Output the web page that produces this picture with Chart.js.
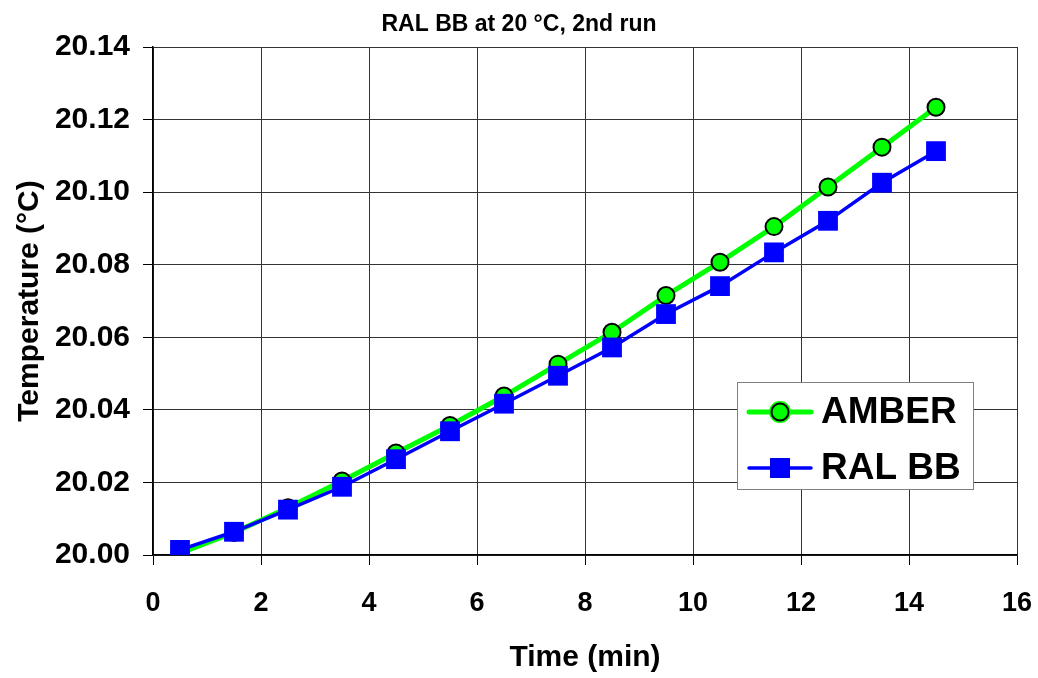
<!DOCTYPE html>
<html>
<head>
<meta charset="utf-8">
<script src="https://cdn.jsdelivr.net/npm/chart.js@4/dist/chart.umd.min.js"></script>
<style>
  html, body { margin: 0; padding: 0; background: #fff; }
  #chart { display: block; }
</style>
</head>
<body>
<canvas id="chart" width="1038" height="678"></canvas>
<script>
// data
const times = [0.5, 1.5, 2.5, 3.5, 4.5, 5.5, 6.5, 7.5, 8.5, 9.5, 10.5, 11.5, 12.5, 13.5, 14.5];
const amber = [20.0005, 20.0062, 20.0130, 20.0204, 20.0281, 20.0357, 20.0438, 20.0526,
               20.0614, 20.0715, 20.0807, 20.0905, 20.1014, 20.1124, 20.1234];
const ralBB = [20.0014, 20.0064, 20.0125, 20.0188, 20.0264, 20.0341, 20.0417, 20.0494,
               20.0572, 20.0664, 20.0741, 20.0834, 20.0921, 20.1026, 20.1113];
const seriesNames = ['AMBER', 'RAL BB'];
const xTicks = { min: 0, max: 16, step: 2 };
const yTicks = { min: 20.00, max: 20.14, step: 0.02 };

const FONT = '"Liberation Sans", Arial, sans-serif';

function toPoints(xs, ys) {
    return xs.map((x, i) => ({ x: x, y: ys[i] }));
}

// legend box drawn inside the plot, like the Excel one
const boxLegend = {
    id: 'boxLegend',
    afterDraw(chart, args, opts) {
        const ctx = chart.ctx;
        const datasets = chart.data.datasets;
        ctx.save();
        ctx.fillStyle = '#fff';
        ctx.fillRect(opts.x, opts.y, opts.w, opts.h);
        ctx.strokeStyle = '#808080';
        ctx.lineWidth = 1;
        ctx.strokeRect(opts.x + 0.5, opts.y + 0.5, opts.w, opts.h);

        datasets.forEach((ds, i) => {
            const cy = opts.y + opts.firstRow + i * opts.rowGap;
            ctx.strokeStyle = ds.borderColor;
            ctx.lineWidth = ds.borderWidth;
            ctx.lineCap = 'round';
            ctx.beginPath();
            ctx.moveTo(opts.x + 12, cy);
            ctx.lineTo(opts.x + 74, cy);
            ctx.stroke();
            Chart.helpers.drawPoint(ctx, {
                pointStyle: ds.pointStyle,
                radius: ds.pointRadius,
                borderWidth: ds.pointBorderWidth
            }, opts.x + 43, cy);
            ctx.fillStyle = ds.pointBackgroundColor;
            ctx.strokeStyle = ds.pointBorderColor;
            ctx.lineWidth = ds.pointBorderWidth;
            ctx.fill();
            if (ds.pointBorderWidth > 0) ctx.stroke();
            ctx.fillStyle = '#000';
            ctx.font = 'bold 37px ' + FONT;
            ctx.textBaseline = 'middle';
            ctx.textAlign = 'left';
            ctx.fillText(ds.label, opts.x + 84, cy + 1);
        });
        ctx.restore();
    }
};

const ctx = document.getElementById('chart').getContext('2d');
new Chart(ctx, {
    type: 'line',
    data: {
        datasets: [{
            label: seriesNames[0],
            data: toPoints(times, amber),
            borderColor: '#00ff00',
            borderWidth: 5,
            pointStyle: 'circle',
            pointRadius: 8.5,
            pointBackgroundColor: '#00ff00',
            pointBorderColor: '#000',
            pointBorderWidth: 2,
            order: 1
        }, {
            label: seriesNames[1],
            data: toPoints(times, ralBB),
            borderColor: '#0000ff',
            borderWidth: 3.5,
            pointStyle: 'rect',
            pointRadius: 14,
            pointBackgroundColor: '#0000ff',
            pointBorderColor: '#0000ff',
            pointBorderWidth: 0,
            order: 0
        }]
    },
    options: {
        responsive: false,
        animation: false,
        devicePixelRatio: 1,
        layout: { padding: 0 },
        plugins: {
            legend: { display: false },
            tooltip: { enabled: false },
            title: {
                display: true,
                text: 'RAL BB at 20 °C, 2nd run',
                color: '#000',
                font: { family: FONT, size: 23, weight: 'bold', lineHeight: 1.2 },
                padding: { top: 11, bottom: 8.4 }
            },
            boxLegend: { x: 737, y: 382, w: 236, h: 107, firstRow: 30, rowGap: 56 }
        },
        scales: {
            x: {
                type: 'linear',
                min: xTicks.min,
                max: xTicks.max,
                afterFit(scale) {
                    // keep the plot right edge where Excel had it
                    scale.height = 123;
                    scale.paddingLeft = 0;
                    scale.paddingRight = 21;
                },
                ticks: {
                    stepSize: xTicks.step,
                    color: '#000',
                    padding: 22,
                    maxRotation: 0,
                    font: { family: FONT, size: 27, weight: 'bold' }
                },
                grid: { color: '#333', lineWidth: 1, tickLength: 10, tickColor: '#000' },
                border: { color: '#000', width: 1.5 },
                title: {
                    display: true,
                    text: 'Time (min)',
                    color: '#000',
                    font: { family: FONT, size: 30, weight: 'bold', lineHeight: 1.2 },
                    padding: { top: 0, bottom: 2 }
                }
            },
            y: {
                type: 'linear',
                min: yTicks.min,
                max: yTicks.max,
                afterFit(scale) { scale.width = 153; },
                ticks: {
                    stepSize: yTicks.step,
                    color: '#000',
                    padding: 13,
                    font: { family: FONT, size: 30, weight: 'bold' },
                    callback: (v) => Number(v).toFixed(2)
                },
                grid: { color: '#333', lineWidth: 1, tickLength: 10, tickColor: '#000' },
                border: { color: '#000', width: 1.5 },
                title: {
                    display: true,
                    text: 'Temperature (°C)',
                    color: '#000',
                    font: { family: FONT, size: 30, weight: 'bold', lineHeight: 1.2 },
                    padding: { top: 12, bottom: 0 }
                }
            }
        }
    },
    plugins: [boxLegend]
});
</script>
</body>
</html>
